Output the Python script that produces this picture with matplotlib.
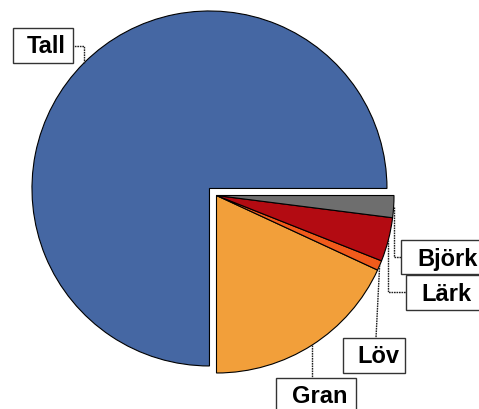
import matplotlib.pyplot as plt
from matplotlib.patches import Rectangle
import numpy as np

labels = ['Tall', 'Gran', 'Löv', 'Lärk', 'Björk']
values = [75.0, 18.1, 0.9, 4.0, 2.0]
colors = ['#4567A3', '#F29F3A', '#F15B1B', '#B30B12', '#6E6E6E']

# layout in pixels: label box (left, top, right, bottom), text left, text baseline
boxes = {'Tall': (13, 29.3, 73, 64.3), 'Björk': (400.7, 240.7, 495, 275),
         'Lärk': (405.7, 275.7, 495, 310.7), 'Löv': (342.7, 339, 405, 374),
         'Gran': (275.7, 379.3, 355.7, 425)}
text_pos = {'Tall': (27, 53.3), 'Björk': (417.7, 265.7), 'Lärk': (421.7, 300.7),
            'Löv': (357.3, 363.3), 'Gran': (291.7, 402.7)}
leader = {'Tall': ((73, 47), 'elbow'), 'Björk': ((401, 258), 'elbow'),
          'Lärk': ((406, 293), 'elbow'), 'Löv': ((376, 339), 'line'),
          'Gran': ((None, 379.3), 'line')}

W, H = 479, 410
R = 177.5
cx, cy = 216.5, 196.5
fs = 17

plt.rcParams['font.family'] = ['Liberation Sans', 'DejaVu Sans']

fig = plt.figure(figsize=(W / 100, H / 100), dpi=100)
ax = fig.add_axes([0, 0, 1, 1])


def px(x, y):
    return (x - cx) / R, (cy - y) / R


wedges, _ = ax.pie(values, colors=colors, startangle=0, counterclock=True,
                   explode=[0.056, 0, 0, 0, 0], radius=1, center=(0, 0),
                   wedgeprops=dict(edgecolor='black', linewidth=0.8))
ax.set_xlim(-cx / R, (W - cx) / R)
ax.set_ylim(-(H - cy) / R, cy / R)
ax.set_aspect('equal')
ax.axis('off')

for w, lab in zip(wedges, labels):
    mid = np.deg2rad((w.theta1 + w.theta2) / 2)
    wx, wy = w.center
    ax_ = wx + w.r * np.cos(mid)
    ay_ = wy + w.r * np.sin(mid)
    (tx, ty), kind = leader[lab]
    if tx is None:
        tgx, tgy = ax_, px(0, ty)[1]
    else:
        tgx, tgy = px(tx, ty)
    if kind == 'elbow':
        xs, ys = [ax_, ax_, tgx], [ay_, tgy, tgy]
    else:
        xs, ys = [ax_, tgx], [ay_, tgy]
    ax.plot(xs, ys, color='#222222', lw=1.0, ls=(0, (1.2, 0.6)), zorder=1)

    l, t, r, b = boxes[lab]
    x0, y0 = px(l, b)
    x1, y1 = px(r, t)
    ax.add_patch(Rectangle((x0, y0), x1 - x0, y1 - y0, fc='white',
                           ec='#333333', lw=1.0, zorder=4, clip_on=False))
    x, y = px(*text_pos[lab])
    ax.text(x, y, lab, ha='left', va='baseline', fontsize=fs,
            fontweight='bold', zorder=5)

fig.savefig('out.png', dpi=100)
